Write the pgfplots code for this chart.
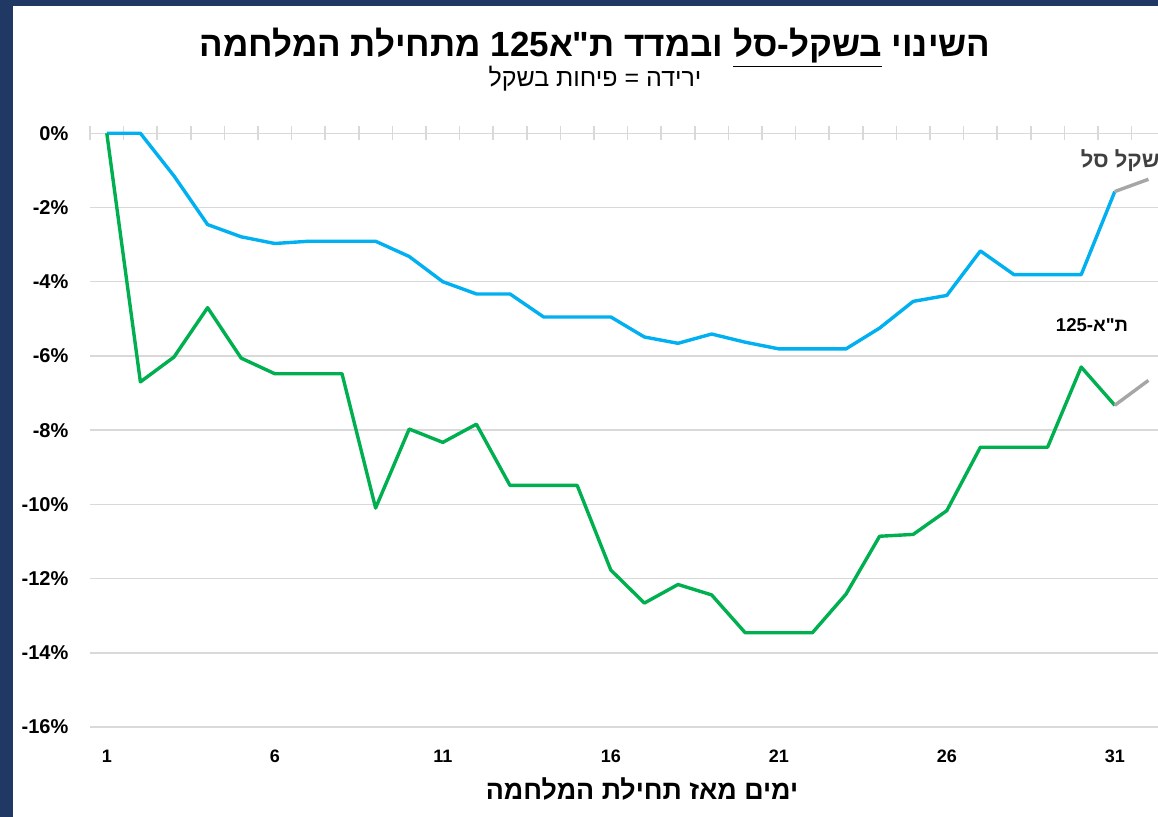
\documentclass[border=0pt]{standalone}
\usepackage{pgfplots}
\pgfplotsset{compat=1.18}
\usepackage{fontspec}
\setmainfont{Liberation Sans}
\newfontfamily\heb[Script=Hebrew]{Liberation Sans}
\TeXXeTstate=1
\definecolor{navy}{HTML}{203864}
\definecolor{sblue}{HTML}{00B0F0}
\definecolor{sgreen}{HTML}{00B050}
\definecolor{gridgray}{HTML}{D9D9D9}
\definecolor{extgray}{HTML}{A6A6A6}
\definecolor{lblgray}{HTML}{404040}
\begin{document}
\begin{tikzpicture}
\useasboundingbox (0pt,0pt) rectangle (579pt,408.5pt);
\fill[white] (0pt,0pt) rectangle (579pt,408.5pt);
\begin{axis}[
  at={(45pt,45pt)}, anchor=south west,
  scale only axis, width=537.6pt, height=296.85pt,
  xmin=0.5, xmax=32.5, ymin=-16, ymax=0,
  clip=false,
  axis line style={draw=none},
  ytick={-16,-14,...,0},
  yticklabels={-16\%,-14\%,-12\%,-10\%,-8\%,-6\%,-4\%,-2\%,0\%},
  ymajorgrids, major grid style={gridgray, line width=0.75pt},
  ytick style={draw=none},
  xtick={1,6,...,31},
  xticklabels={1,6,11,16,21,26,31},
  minor xtick={0.5,1.5,...,32.5},
  xtick pos=upper, xticklabel pos=lower,
  major x tick style={draw=none},
  minor x tick style={gridgray, line width=0.75pt},
  minor tick length=7pt, tick align=center,
  xticklabel style={font=\bfseries\fontsize{9}{10}\selectfont, anchor=center, yshift=-12.5pt},
  yticklabel style={font=\bfseries\fontsize{10}{11}\selectfont, anchor=east, inner sep=0pt, xshift=-8.5pt},
  every axis plot/.append style={line width=1.7pt, line join=round},
]
\addplot[sblue] coordinates {(1,0)(2,0)(3,-1.15)(4,-2.46)(5,-2.79)(6,-2.97)(7,-2.91)(8,-2.91)(9,-2.91)(10,-3.32)(11,-4.0)(12,-4.33)(13,-4.33)(14,-4.95)(15,-4.95)(16,-4.95)(17,-5.49)(18,-5.66)(19,-5.41)(20,-5.63)(21,-5.81)(22,-5.81)(23,-5.81)(24,-5.25)(25,-4.53)(26,-4.37)(27,-3.17)(28,-3.81)(29,-3.81)(30,-3.81)(31,-1.57)};
\addplot[extgray] coordinates {(31,-1.57)(32,-1.24)};
\addplot[sgreen] coordinates {(1,0)(2,-6.70)(3,-6.03)(4,-4.70)(5,-6.06)(6,-6.48)(7,-6.48)(8,-6.48)(9,-10.10)(10,-7.97)(11,-8.33)(12,-7.84)(13,-9.49)(14,-9.49)(15,-9.49)(16,-11.77)(17,-12.66)(18,-12.16)(19,-12.44)(20,-13.46)(21,-13.46)(22,-13.46)(23,-12.42)(24,-10.86)(25,-10.81)(26,-10.17)(27,-8.46)(28,-8.46)(29,-8.46)(30,-6.30)(31,-7.33)};
\addplot[extgray] coordinates {(31,-7.33)(32,-6.66)};
\end{axis}
\fill[navy] (0pt,405.5pt) rectangle (579pt,408.5pt);
\fill[navy] (0pt,0pt) rectangle (6.5pt,408.5pt);
\node[font=\heb\bfseries\fontsize{17.5}{20}\selectfont, anchor=base, inner sep=0pt] at (297.5pt,380pt) {\beginR השינוי \underline{\beginR בשקל-סל\endR} ובמדד ת"א125 מתחילת המלחמה\endR};
\node[font=\heb\fontsize{12.5}{15}\selectfont, anchor=base, inner sep=0pt] at (297.5pt,365pt) {\beginR ירידה = פיחות בשקל\endR};
\node[font=\heb\bfseries\fontsize{13.4}{15}\selectfont, anchor=base, inner sep=0pt] at (321pt,8.5pt) {\beginR ימים מאז תחילת המלחמה\endR};
\node[font=\heb\bfseries\fontsize{11}{13}\selectfont, text=lblgray, anchor=base east, inner sep=0pt] at (580pt,324.5pt) {\beginR שקל סל\endR};
\node[font=\heb\bfseries\fontsize{9.3}{11}\selectfont, anchor=base, inner sep=0pt] at (546pt,242.5pt) {\beginR ת"א-125\endR};
\end{tikzpicture}
\end{document}
